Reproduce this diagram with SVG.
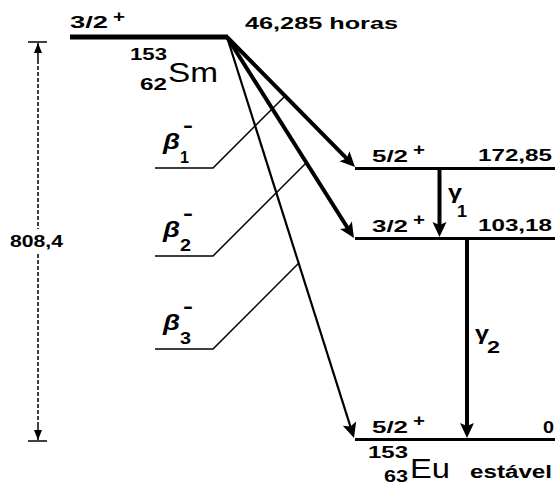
<svg xmlns="http://www.w3.org/2000/svg" width="555" height="492" viewBox="0 0 555 492">
<style>
.t{font-family:"Liberation Sans",Arial,sans-serif;font-weight:bold;font-size:17px;fill:#000}
.big{font-family:"Liberation Sans",Arial,sans-serif;font-weight:normal;font-size:27px;fill:#000}
.gr{font-family:"Liberation Sans",Arial,sans-serif;font-weight:bold;font-style:italic;font-size:22px;fill:#000}
.lvl{stroke:#000;stroke-width:3;fill:none}
.thin{stroke:#000;stroke-width:1.5;fill:none}
.arr{stroke:#000;stroke-width:4;fill:none;marker-end:url(#ah)}
</style>
<defs>
<marker id="ah" markerUnits="userSpaceOnUse" markerWidth="20" markerHeight="20" refX="10" refY="0" orient="auto" overflow="visible">
<path d="M0,-7 L15,0 L0,7 L3,0 z" fill="#000"/>
</marker>
<marker id="dh" markerUnits="userSpaceOnUse" markerWidth="12" markerHeight="12" refX="10" refY="0" orient="auto" overflow="visible">
<path d="M0,-4 L10,0 L0,4 z" fill="#000"/>
</marker>
</defs>
<rect width="555" height="492" fill="#fff"/>

<g id="level-sm">
<line x1="70" y1="37" x2="228" y2="37" stroke="#000" stroke-width="5"/>
<text class="t" x="70" y="28" textLength="38" lengthAdjust="spacingAndGlyphs">3/2</text>
<text class="t" x="113" y="22" textLength="12" lengthAdjust="spacingAndGlyphs">+</text>
<text class="t" x="245" y="29" textLength="153" lengthAdjust="spacingAndGlyphs">46,285 horas</text>
<text class="t" x="130" y="60" textLength="37" lengthAdjust="spacingAndGlyphs">153</text>
<text class="t" x="140" y="90" textLength="27" lengthAdjust="spacingAndGlyphs">62</text>
<text class="big" x="168" y="82" textLength="50" lengthAdjust="spacingAndGlyphs">Sm</text>
</g>

<g id="level-172">
<line class="lvl" x1="355" y1="168.5" x2="555" y2="168.5"/>
<text class="t" x="372" y="162" textLength="36" lengthAdjust="spacingAndGlyphs">5/2</text>
<text class="t" x="413" y="155" textLength="12" lengthAdjust="spacingAndGlyphs">+</text>
<text class="t" x="478" y="161" textLength="74" lengthAdjust="spacingAndGlyphs">172,85</text>
</g>

<g id="level-103">
<line class="lvl" x1="355" y1="238.5" x2="555" y2="238.5"/>
<text class="t" x="372" y="232" textLength="36" lengthAdjust="spacingAndGlyphs">3/2</text>
<text class="t" x="413" y="225" textLength="12" lengthAdjust="spacingAndGlyphs">+</text>
<text class="t" x="478" y="231" textLength="74" lengthAdjust="spacingAndGlyphs">103,18</text>
</g>

<g id="level-0">
<line class="lvl" x1="355" y1="439.5" x2="555" y2="439.5"/>
<text class="t" x="372" y="433" textLength="36" lengthAdjust="spacingAndGlyphs">5/2</text>
<text class="t" x="413" y="426" textLength="12" lengthAdjust="spacingAndGlyphs">+</text>
<text class="t" x="543" y="433" textLength="11" lengthAdjust="spacingAndGlyphs">0</text>
<text class="t" x="368" y="458" textLength="40" lengthAdjust="spacingAndGlyphs">153</text>
<text class="t" x="384" y="482" textLength="24" lengthAdjust="spacingAndGlyphs">63</text>
<text class="big" x="410" y="478" style="font-size:28px" textLength="40" lengthAdjust="spacingAndGlyphs">Eu</text>
<text class="t" x="470" y="478" style="font-size:18px" textLength="82" lengthAdjust="spacingAndGlyphs">estável</text>
</g>

<g id="label-beta1">
<text class="gr" x="163" y="149" textLength="17" lengthAdjust="spacingAndGlyphs">β</text>
<text class="t" x="183" y="132" style="font-size:20px" textLength="10" lengthAdjust="spacingAndGlyphs">-</text>
<text class="t" x="180" y="163" textLength="9" lengthAdjust="spacingAndGlyphs">1</text>
</g>
<g id="label-beta2">
<text class="gr" x="163" y="237" textLength="17" lengthAdjust="spacingAndGlyphs">β</text>
<text class="t" x="183" y="220" style="font-size:20px" textLength="10" lengthAdjust="spacingAndGlyphs">-</text>
<text class="t" x="180" y="251" textLength="11" lengthAdjust="spacingAndGlyphs">2</text>
</g>
<g id="label-beta3">
<text class="gr" x="163" y="330" textLength="17" lengthAdjust="spacingAndGlyphs">β</text>
<text class="t" x="183" y="313" style="font-size:20px" textLength="10" lengthAdjust="spacingAndGlyphs">-</text>
<text class="t" x="180" y="344" textLength="11" lengthAdjust="spacingAndGlyphs">3</text>
</g>
<g id="label-gamma1">
<text class="t" x="448" y="199" style="font-size:21px" textLength="14" lengthAdjust="spacingAndGlyphs">γ</text>
<text class="t" x="457" y="217" textLength="10" lengthAdjust="spacingAndGlyphs">1</text>
</g>
<g id="label-gamma2">
<text class="t" x="475" y="340" style="font-size:21px" textLength="14" lengthAdjust="spacingAndGlyphs">γ</text>
<text class="t" x="487" y="353" textLength="13" lengthAdjust="spacingAndGlyphs">2</text>
</g>
<g id="dimension">
<text class="t" x="10" y="247" textLength="53" lengthAdjust="spacingAndGlyphs">808,4</text>
</g>

<g id="connectors">
<line class="arr" x1="227" y1="37" x2="351.5" y2="163.4"/>
<line class="arr" x1="227" y1="37" x2="351.3" y2="233.8"/>
<line class="arr" x1="227" y1="37" x2="352.5" y2="433.2" style="stroke-width:2.2"/>
<line class="arr" x1="439.5" y1="170" x2="439.5" y2="232"/>
<line class="arr" x1="467" y1="240" x2="467" y2="433"/>
<polyline class="thin" points="155,168 213,168 284.8,96.2"/>
<polyline class="thin" points="155,256 213,256 306.8,162.2"/>
<polyline class="thin" points="155,349 213,349 298.9,263"/>
<line x1="28" y1="42" x2="47" y2="42" stroke="#000" stroke-width="1.5"/>
<line x1="28" y1="441" x2="47" y2="441" stroke="#000" stroke-width="1.5"/>
<line x1="38" y1="60" x2="38" y2="43" stroke="#000" stroke-width="1.5" marker-end="url(#dh)"/>
<line x1="38" y1="60" x2="38" y2="229" stroke="#000" stroke-width="1.5" stroke-dasharray="4 2"/>
<line x1="38" y1="254" x2="38" y2="422" stroke="#000" stroke-width="1.5" stroke-dasharray="4 2"/>
<line x1="38" y1="422" x2="38" y2="440" stroke="#000" stroke-width="1.5" marker-end="url(#dh)"/>
</g>
</svg>
